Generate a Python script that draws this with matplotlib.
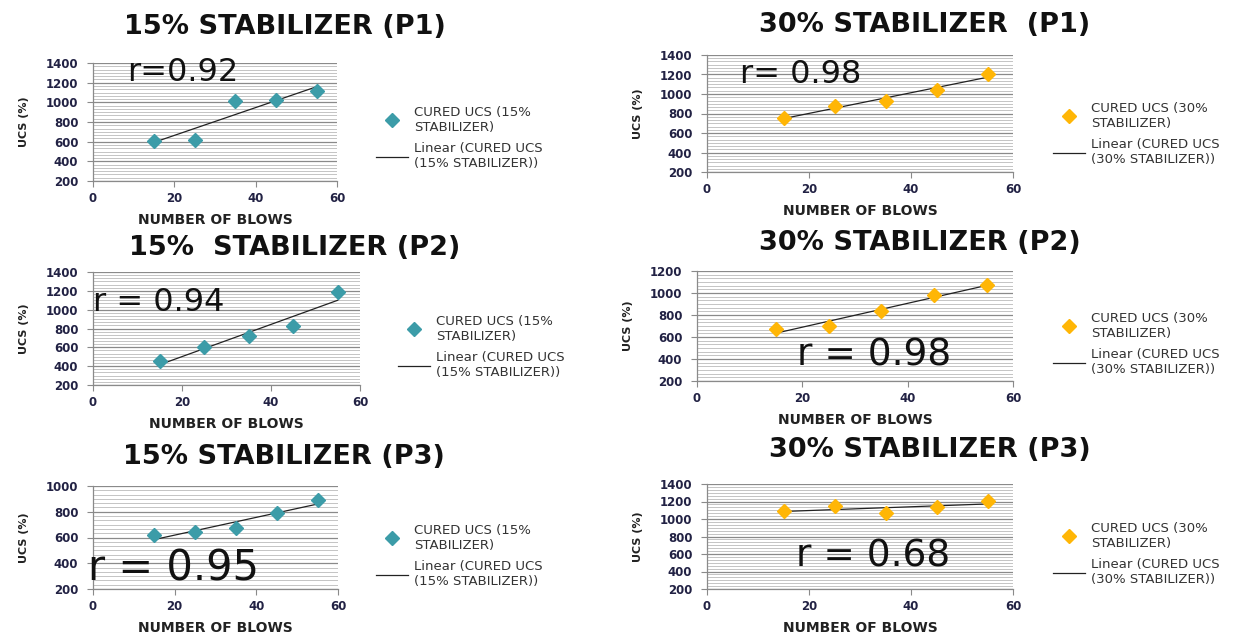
import numpy as np
import matplotlib
matplotlib.use("Agg")
from matplotlib import pyplot as plt
from matplotlib.ticker import MultipleLocator, AutoMinorLocator

blows = [15, 25, 35, 45, 55]

# cured UCS values
ucs_15_p1 = [610, 620, 1010, 1025, 1115]
ucs_30_p1 = [750, 880, 930, 1040, 1200]
ucs_15_p2 = [450, 600, 720, 830, 1190]
ucs_30_p2 = [670, 700, 835, 985, 1070]
ucs_15_p3 = [620, 640, 670, 790, 890]
ucs_30_p3 = [1090, 1150, 1065, 1135, 1205]

titles = ['15% STABILIZER (P1)', '30% STABILIZER  (P1)',
          '15%  STABILIZER (P2)', '30% STABILIZER (P2)',
          '15% STABILIZER (P3)', '30% STABILIZER (P3)']
r_labels = ['r=0.92', 'r= 0.98', 'r = 0.94', 'r = 0.98', 'r = 0.95', 'r = 0.68']
y_tops = [1400, 1400, 1400, 1200, 1000, 1400]

teal = '#3C9CA8'
gold = '#FFB606'

plt.rcParams['font.family'] = ['DejaVu Sans']
fig = plt.figure(figsize=(12.37, 6.35), dpi=100)

W, H = 1237, 635


def px_axes(l, t, r, b):
    return fig.add_axes([l / W, 1 - b / H, (r - l) / W, (b - t) / H])


panels = [
    # axes box (px), title centre, legend left/middle, r text pos, r size
    dict(box=(93, 63, 337, 181), title=(285, 27), leg=(364, 138), rpos=(8.5, 1300), rsize=23),
    dict(box=(707, 55, 1013, 172), title=(925, 25), leg=(1041, 134), rpos=(6.5, 1195), rsize=23),
    dict(box=(93, 272, 360, 385), title=(295, 248), leg=(386, 347), rpos=(0, 1080), rsize=23),
    dict(box=(697, 271, 1013, 381), title=(920, 243), leg=(1041, 344), rpos=(19, 436), rsize=27),
    dict(box=(93, 486, 338, 589), title=(284, 457), leg=(364, 556), rpos=(-1.3, 363), rsize=30),
    dict(box=(707, 484, 1013, 589), title=(930, 450), leg=(1041, 554), rpos=(17.5, 566), rsize=27),
]
series = [ucs_15_p1, ucs_30_p1, ucs_15_p2, ucs_30_p2, ucs_15_p3, ucs_30_p3]

for i, (p, ucs) in enumerate(zip(panels, series)):
    ax = px_axes(*p['box'])
    pct = '15%' if i % 2 == 0 else '30%'
    col = teal if i % 2 == 0 else gold

    ax.plot(blows, ucs, 'D', color=col, ms=7, mec=col,
            label='CURED UCS (' + pct + '\nSTABILIZER)', zorder=3)
    k, c = np.polyfit(blows, ucs, 1)
    xs = np.array([blows[0], blows[-1]])
    ax.plot(xs, k * xs + c, color='#222222', lw=0.9,
            label='Linear (CURED UCS\n(' + pct + ' STABILIZER))', zorder=2)

    ax.set_xlim(0, 60)
    ax.set_ylim(200, y_tops[i])
    ax.xaxis.set_major_locator(MultipleLocator(20))
    ax.yaxis.set_major_locator(MultipleLocator(200))
    ax.yaxis.set_minor_locator(AutoMinorLocator(6))
    ax.grid(axis='y', which='major', color='#8a8a8a', lw=0.9)
    ax.grid(axis='y', which='minor', color='#c4c4c4', lw=0.7)
    ax.set_axisbelow(True)
    for s in ['top', 'right']:
        ax.spines[s].set_visible(False)
    for s in ['left', 'bottom']:
        ax.spines[s].set_color('#8a8a8a')
        ax.spines[s].set_linewidth(0.9)
    ax.tick_params(which='major', length=4.5, width=0.8, color='#8a8a8a',
                   labelsize=8.5, labelcolor='#222244')
    ax.tick_params(axis='y', pad=6)
    ax.tick_params(which='minor', length=0)
    for lab in ax.get_xticklabels() + ax.get_yticklabels():
        lab.set_fontweight('bold')

    ax.set_xlabel('NUMBER OF BLOWS', fontsize=10, fontweight='bold',
                  color='#222222', labelpad=6)
    ax.set_ylabel('UCS (%)', fontsize=8, fontweight='bold', color='#222222',
                  labelpad=12)

    ax.text(p['rpos'][0], p['rpos'][1], r_labels[i], fontsize=p['rsize'],
            va='center', ha='left', color='#111111')

    fig.text(p['title'][0] / W, 1 - p['title'][1] / H, titles[i],
             fontsize=19.5, fontweight='bold', ha='center', va='center', color='#111111')

    ax.legend(loc='center left', bbox_to_anchor=(p['leg'][0] / W, 1 - p['leg'][1] / H),
              bbox_transform=fig.transFigure, frameon=False, fontsize=9.5,
              handlelength=2.4, handletextpad=0.5, labelspacing=0.65,
              labelcolor='#333333')

fig.savefig('out.png', dpi=100)
